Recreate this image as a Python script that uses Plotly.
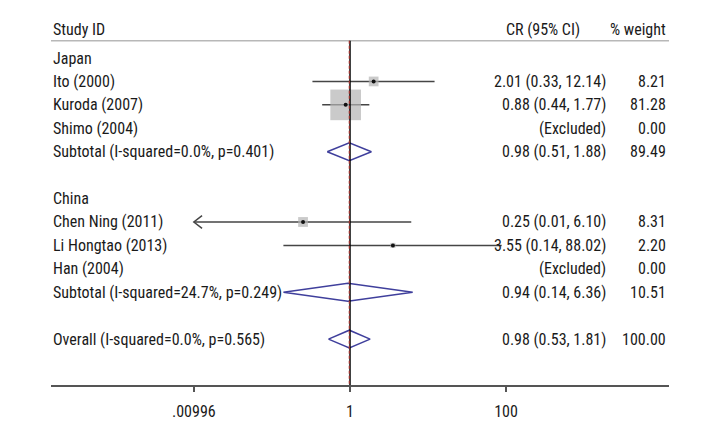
import math
import plotly.graph_objects as go

# ---------------- data ----------------
row_labels = ["Japan", "Ito (2000)", "Kuroda (2007)", "Shimo (2004)",
              "Subtotal (I-squared=0.0%, p=0.401)", "",
              "China", "Chen Ning (2011)", "Li Hongtao (2013)", "Han (2004)",
              "Subtotal (I-squared=24.7%, p=0.249)", "",
              "Overall (I-squared=0.0%, p=0.565)"]

study_rows = [1, 2, 3, 7, 8, 9]
study_est = [2.01, 0.88, None, 0.25, 3.55, None]
study_lo = [0.33, 0.44, None, 0.0099, 0.14, None]
study_hi = [12.14, 1.77, None, 6.10, 88.02, None]
study_w = [8.21, 81.28, 0.00, 8.31, 2.20, 0.00]

pooled_rows = [4, 10, 12]
pooled_est = [0.98, 0.94, 0.98]
pooled_lo = [0.51, 0.14, 0.53]
pooled_hi = [1.88, 6.36, 1.81]
pooled_w = [89.49, 10.51, 100.00]

tick_vals = [0.00996, 1, 100]
tick_text = [".00996", "1", "100"]
x_min_val = 0.00996
x_max_val = 1 / 0.00996
overall_est = 0.98

# ---------------- styles ----------------
FONT = "Roboto Condensed, Liberation Sans Narrow, DejaVu Sans Condensed, sans-serif"
FS = 16
TXT = "#1a1a1a"
CI_COL = "#454545"
BOX_COL = "#b3b3b3"
DIA_COL = "#3f3f9c"

X_RANGE = [-3.8333, 4.0897]
Y_TOP, Y_BOT = -2.05, 13.96
HEADER_ROW = -1.2
HLINE_ROW = -0.74
DIA_H = 0.38

fig = go.Figure()

# CI lines (clipped at axis limits, with open arrow where clipped)
for r, e, lo, hi in zip(study_rows, study_est, study_lo, study_hi):
    if e is None:
        continue
    lo_c = max(lo, x_min_val)
    hi_c = min(hi, x_max_val)
    fig.add_trace(go.Scatter(x=[lo_c, hi_c], y=[r, r], mode="lines",
                             line=dict(color=CI_COL, width=1.5),
                             hoverinfo="skip", showlegend=False))
    k = 10 ** 0.105
    if lo < x_min_val:
        fig.add_trace(go.Scatter(x=[x_min_val * k, x_min_val, x_min_val * k],
                                 y=[r - 0.27, r, r + 0.27], mode="lines",
                                 line=dict(color=CI_COL, width=1.5),
                                 hoverinfo="skip", showlegend=False))
    if hi > x_max_val:
        fig.add_trace(go.Scatter(x=[x_max_val / k, x_max_val, x_max_val / k],
                                 y=[r - 0.27, r, r + 0.27], mode="lines",
                                 line=dict(color=CI_COL, width=1.5),
                                 hoverinfo="skip", showlegend=False))

# weight boxes
bx, by, bs = [], [], []
for r, e, w in zip(study_rows, study_est, study_w):
    if e is None or w <= 0:
        continue
    bx.append(e)
    by.append(r)
    bs.append(3.4 * math.sqrt(w))
fig.add_trace(go.Scatter(x=bx, y=by, mode="markers",
                         marker=dict(symbol="square", size=bs, color=BOX_COL,
                                     line=dict(width=0)),
                         hoverinfo="skip", showlegend=False))
# point estimates
fig.add_trace(go.Scatter(x=bx, y=by, mode="markers",
                         marker=dict(symbol="circle", size=4, color="#111"),
                         hoverinfo="skip", showlegend=False))

# diamonds
for r, e, lo, hi in zip(pooled_rows, pooled_est, pooled_lo, pooled_hi):
    fig.add_trace(go.Scatter(x=[lo, e, hi, e, lo], y=[r, r - DIA_H, r, r + DIA_H, r],
                             mode="lines", fill="toself", fillcolor="rgba(255,255,255,0)",
                             line=dict(color=DIA_COL, width=1.5),
                             hoverinfo="skip", showlegend=False))

# ---------------- text columns ----------------
ann = []
def add_text(x, y, text, anchor):
    ann.append(dict(x=x, y=y, xref="paper", yref="y", text=text, showarrow=False,
                    xanchor=anchor, yanchor="middle",
                    font=dict(family=FONT, size=FS, color=TXT)))

X_LABEL = 0.0
X_CR = 0.9005
X_W = 0.9985
add_text(X_LABEL, HEADER_ROW, "Study ID", "left")
add_text(0.859, HEADER_ROW, "CR (95% CI)", "right")
add_text(X_W, HEADER_ROW, "% weight", "right")

for i, lab in enumerate(row_labels):
    if lab:
        add_text(X_LABEL, i, lab, "left")

for r, e, lo, hi, w in zip(study_rows, study_est, study_lo, study_hi, study_w):
    if e is None:
        add_text(X_CR, r, "(Excluded)", "right")
    else:
        add_text(X_CR, r, f"{e:.2f} ({lo:.2f}, {hi:.2f})", "right")
    add_text(X_W, r, f"{w:.2f}", "right")
for r, e, lo, hi, w in zip(pooled_rows, pooled_est, pooled_lo, pooled_hi, pooled_w):
    add_text(X_CR, r, f"{e:.2f} ({lo:.2f}, {hi:.2f})", "right")
    add_text(X_W, r, f"{w:.2f}", "right")

# ---------------- shapes ----------------
shapes = [
    dict(type="line", xref="paper", yref="y", x0=0, x1=1, y0=HLINE_ROW, y1=HLINE_ROW,
         line=dict(color="#b8b8b8", width=1.5), layer="above"),
    dict(type="line", xref="x", yref="y", x0=1, x1=1, y0=HLINE_ROW, y1=Y_BOT,
         line=dict(color="#000000", width=1.5), layer="above"),
    dict(type="line", xref="x", yref="y", x0=overall_est, x1=overall_est, y0=HLINE_ROW, y1=Y_BOT,
         line=dict(color="#a3322c", width=1.2, dash="3px,2px"), layer="above"),
]

fig.update_layout(
    width=720, height=429,
    margin=dict(l=43, r=59, t=2, b=52),
    paper_bgcolor="white", plot_bgcolor="white",
    showlegend=False,
    annotations=ann, shapes=shapes,
    xaxis=dict(type="log", range=X_RANGE, showgrid=False, zeroline=False,
               showline=True, linecolor="#555555", linewidth=2,
               ticks="outside", ticklen=5, tickwidth=1.5, tickcolor="#555555",
               ticklabelstandoff=6,
               tickvals=tick_vals, ticktext=tick_text,
               tickfont=dict(family=FONT, size=FS, color=TXT)),
    yaxis=dict(range=[Y_BOT, Y_TOP], visible=False, showgrid=False, zeroline=False),
)

fig.write_html("out.html")
